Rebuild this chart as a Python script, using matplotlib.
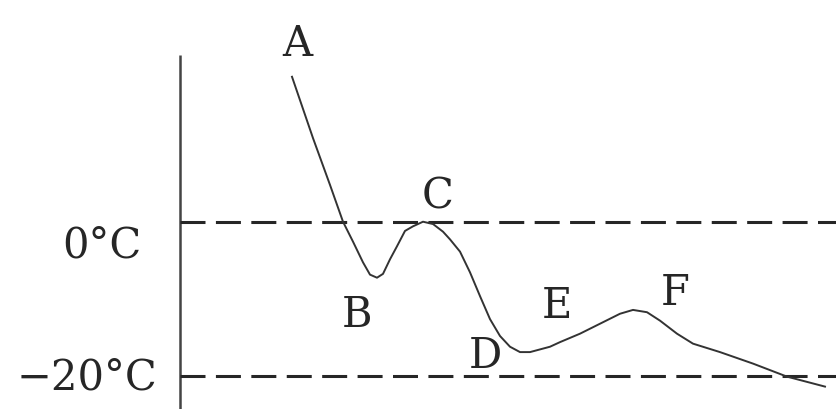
import matplotlib
matplotlib.use("Agg")
import matplotlib.pyplot as plt

# cooling curve (time in arbitrary units, temperature in degC)
time_pts = [11.2, 13.3, 15.0, 16.3, 17.3, 18.3, 19.0, 19.7, 20.3, 21.0, 21.7,
            22.5, 23.3, 24.3, 25.3, 26.3, 27.0, 28.0, 29.0, 30.0, 31.0, 32.0,
            33.0, 34.0, 35.0, 37.0, 38.0, 40.0, 42.0, 44.0, 45.3, 46.7, 48.0,
            49.7, 51.3, 54.0, 57.3, 60.7, 64.5]
temp_pts = [19.0, 11.0, 4.9, 0.1, -2.5, -5.2, -6.8, -7.2, -6.7, -4.8, -3.1,
            -1.1, -0.5, 0.1, -0.2, -1.2, -2.2, -3.8, -6.5, -9.6, -12.6, -14.8,
            -16.2, -16.9, -16.9, -16.2, -15.6, -14.5, -13.2, -11.9, -11.4, -11.7, -12.8,
            -14.5, -15.8, -16.9, -18.4, -20.1, -21.4]

ref_temps = [0, -20]
ref_labels = ["0°C", "−20°C"]

point_names = ["A", "B", "C", "D", "E", "F"]
point_x = [11.7, 17.7, 25.8, 30.5, 37.7, 49.5]
point_y = [21.9, -13.5, 2.0, -18.8, -12.3, -10.6]

plt.rcParams['lines.scale_dashes'] = False
ink = "#262626"
serif = ["DejaVu Serif"]

fig = plt.figure(figsize=(8.37, 4.10), dpi=100)
ax = fig.add_axes([0, 0, 1, 1])
ax.set_xlim(-18, 65.7)
ax.set_ylim(-24.32, 29.14)
ax.axis("off")

# vertical axis
ax.plot([0, 0], [-24.32, 21.84], color="#444444", lw=1.8, solid_capstyle="butt")

# reference temperatures
for t in ref_temps:
    ax.plot([0, 65.7], [t, t], color=ink, lw=2.2, dashes=(18, 7.5))

ax.text(-3.8, -4.5, ref_labels[0], ha="right", va="baseline", fontsize=30,
        family=serif, color=ink)
ax.text(-2.3, -21.7, ref_labels[1], ha="right", va="baseline", fontsize=30,
        family=serif, color=ink)

ax.plot(time_pts, temp_pts, color="#333333", lw=1.4,
        solid_joinstyle="round")

for name, x, y in zip(point_names, point_x, point_y):
    ax.text(x, y, name, ha="center", va="baseline", fontsize=30,
            family=serif, color=ink)

fig.savefig("out.png", dpi=100)
